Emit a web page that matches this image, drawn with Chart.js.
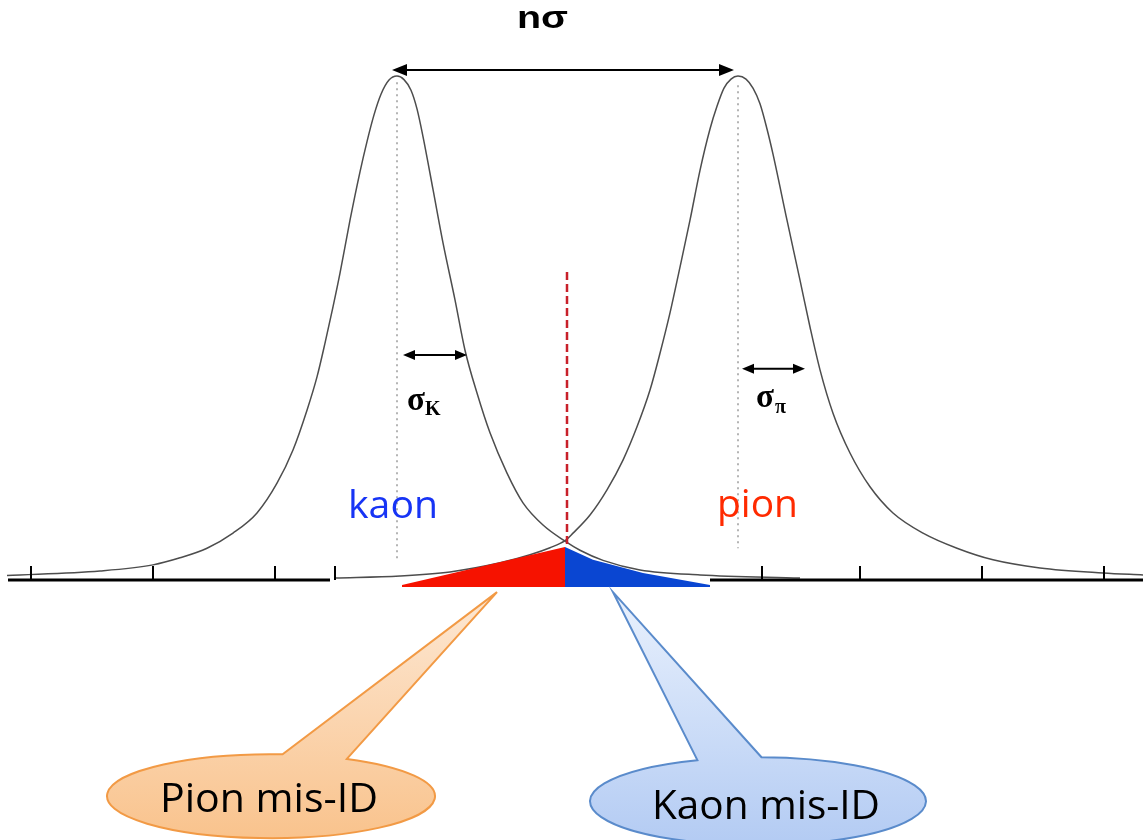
<!DOCTYPE html>
<html>
<head>
<meta charset="utf-8">
<title>kaon / pion separation</title>
<script src="https://cdn.jsdelivr.net/npm/chart.js@4.4.0/dist/chart.umd.min.js"></script>
<style>
	html, body { margin: 0; padding: 0; background: #fff; }
	#box { width: 1143px; height: 840px; }
</style>
</head>
<body>
<div id="box"><canvas id="MyChart1"></canvas></div>
<script>
// values (x: arbitrary PID units, y: % of peak height)
var kaonX = [0.7, 10.0, 15.3, 18.0, 20.7, 23.3, 25.7, 27.7, 29.3, 30.7, 31.7, 32.5, 33.3, 34.0, 35.0, 36.0, 36.7, 37.4, 38.1, 38.9, 39.7,
	40.4, 41.1, 41.7, 42.3, 43.3, 44.3, 45.5, 46.5, 47.7, 49.0, 50.7, 52.3, 54.3, 56.5, 58.0, 60.3, 64.0, 70.0, 80.0];
var kaonY = [0.9, 1.8, 3.0, 4.4, 6.3, 9.3, 13.3, 19.2, 25.8, 33.7, 40.3, 47.0, 54.2, 60.9, 71.4, 81.0, 87.0, 92.3, 96.4, 99.2, 100,
	99.3, 97.2, 93.5, 88.0, 77.5, 66.9, 55.6, 45.6, 37.1, 29.2, 21.2, 15.3, 10.9, 7.7, 5.9, 3.9, 2.0, 1.0, 0.4];
var pionX = [33.5, 40.0, 45.0, 50.0, 53.0, 55.0, 56.5, 57.3, 59.0, 60.7, 62.3, 63.7, 65.0, 66.0, 67.0, 68.0, 69.0, 70.0, 71.0, 71.7,
	72.4, 73.1, 73.8, 74.6, 75.3, 76.0, 76.7, 77.3, 78.7, 80.0, 81.0, 82.0, 83.3, 85.0, 87.0, 89.3, 92.3, 95.7, 99.3, 104.0, 110.3, 114.3];
var pionY = [0.4, 0.8, 1.6, 3.4, 5.0, 6.4, 7.8, 9.3, 12.9, 17.9, 23.8, 30.4, 37.7, 45.0, 53.0, 62.1, 71.4, 81.3, 89.5, 94.0,
	97.6, 99.4, 100, 99.4, 97.6, 94.5, 89.5, 84.5, 71.4, 59.5, 50.2, 41.7, 33.1, 25.2, 18.5, 13.3, 9.3, 6.3, 4.0, 2.4, 1.4, 1.0];

// mis-identified areas either side of the cut
var pionMisX = [40.2, 56.5];
var pionMisY = [-1.0, 6.55];
var kaonMisX = [56.5, 59.3, 64.3, 71.0];
var kaonMisY = [6.55, 4.0, 1.4, -1.0];
var misFloor = -1.4;

var cutX = 56.7, cutTop = 61.1, cutBottom = 6.9;
var kaonMean = 39.7, pionMean = 73.8;
var kaonMeanSpan = [98.8, 4.0];
var pionMeanSpan = [98.2, 6.3];

var axisSegments = [[0.8, 33.0], [71.0, 114.3]];
var tickValues = [3.1, 15.3, 27.5, 33.5, 76.2, 86.0, 98.2, 110.4];

function zip(xs, ys) {
	return xs.map(function(x, i) { return { x: x, y: ys[i] }; });
}

function vline(x, span) {
	return [{ x: x, y: span[0] }, { x: x, y: span[1] }];
}

var axisData = [];
axisSegments.forEach(function(s, i) {
	if (i > 0) axisData.push({ x: s[0], y: null });
	axisData.push({ x: s[0], y: 0 }, { x: s[1], y: 0 });
});

// label / arrow placement, in data units
var notes = {
	nSigma: { x: 54.25, y: 109.45, w: 51 },
	topArrow: { x1: 39.2, x2: 73.4, y: 101.2 },
	sigK: { x1: 40.3, x2: 46.7, y: 44.65, sx: 40.7, sy: 33.7, kx: 42.5, ky: 32.7 },
	sigPi: { x1: 74.2, x2: 80.5, y: 41.9, sx: 75.6, sy: 34.3, kx: 77.5, ky: 33.1 },
	kaon: { x: 39.3, y: 12.3, w: 90 },
	pion: { x: 75.75, y: 12.5, w: 81 },
	pionMis: { cx: 27.1, cy: -42.9, rx: 16.4, ry: 8.33, tipX: 49.7, tipY: -2.4, a1: -1.50, a2: -1.09,
		tx: 26.9, ty: -46.0, tw: 218, text: "Pion mis-ID",
		top: "#fde8d4", bottom: "#f9c38d", stroke: "#f29a45" },
	kaonMis: { cx: 75.8, cy: -43.9, rx: 16.8, ry: 8.73, tipX: 61.3, tipY: -2.4, a1: -1.94, a2: -1.55,
		tx: 76.6, ty: -47.4, tw: 228, text: "Kaon mis-ID",
		top: "#e9f1fd", bottom: "#b3cbf3", stroke: "#5a8bcb" }
};

function fitText(ctx, text, cx, base, w, font, color) {
	ctx.font = font;
	var m = ctx.measureText(text).width;
	ctx.save();
	ctx.translate(cx, base);
	ctx.scale(w / m, 1);
	ctx.fillStyle = color;
	ctx.textAlign = "center";
	ctx.textBaseline = "alphabetic";
	ctx.fillText(text, 0, 0);
	ctx.restore();
}

function arrow2(ctx, x1, x2, y, len, half, lw) {
	ctx.save();
	ctx.strokeStyle = "#000";
	ctx.fillStyle = "#000";
	ctx.lineWidth = lw;
	ctx.beginPath();
	ctx.moveTo(x1 + len - 2, y);
	ctx.lineTo(x2 - len + 2, y);
	ctx.stroke();
	ctx.beginPath();
	ctx.moveTo(x1, y); ctx.lineTo(x1 + len, y - half); ctx.lineTo(x1 + len, y + half); ctx.closePath();
	ctx.moveTo(x2, y); ctx.lineTo(x2 - len, y - half); ctx.lineTo(x2 - len, y + half); ctx.closePath();
	ctx.fill();
	ctx.restore();
}

function callout(ctx, xs, ys, c) {
	var cx = xs.getPixelForValue(c.cx), cy = ys.getPixelForValue(c.cy);
	var rx = xs.getPixelForValue(c.cx + c.rx) - cx;
	var ry = ys.getPixelForValue(c.cy) - ys.getPixelForValue(c.cy + c.ry);
	var tx = xs.getPixelForValue(c.tipX), ty = ys.getPixelForValue(c.tipY);
	ctx.save();
	ctx.beginPath();
	ctx.moveTo(cx + rx * Math.cos(c.a2), cy + ry * Math.sin(c.a2));
	ctx.lineTo(tx, ty);
	ctx.lineTo(cx + rx * Math.cos(c.a1), cy + ry * Math.sin(c.a1));
	ctx.ellipse(cx, cy, rx, ry, 0, c.a1, c.a2, true);
	ctx.closePath();
	var g = ctx.createLinearGradient(0, ty, 0, cy + ry);
	g.addColorStop(0, c.top);
	g.addColorStop(1, c.bottom);
	ctx.fillStyle = g;
	ctx.fill();
	ctx.lineWidth = 2;
	ctx.strokeStyle = c.stroke;
	ctx.stroke();
	ctx.restore();
	fitText(ctx, c.text, xs.getPixelForValue(c.tx), ys.getPixelForValue(c.ty), c.tw, "40px 'Open Sans'", "#000");
}

var decorations = {
	id: "decorations",
	afterDatasetsDraw: function(chart) {
		var ctx = chart.ctx, xs = chart.scales.x, ys = chart.scales.y;
		var y0 = ys.getPixelForValue(0);

		// axis ticks
		ctx.save();
		ctx.strokeStyle = "#000";
		ctx.lineWidth = 2;
		tickValues.forEach(function(t) {
			var px = Math.round(xs.getPixelForValue(t));
			ctx.beginPath();
			ctx.moveTo(px, y0);
			ctx.lineTo(px, y0 - 14);
			ctx.stroke();
		});
		ctx.restore();

		var n = notes;
		arrow2(ctx, xs.getPixelForValue(n.topArrow.x1), xs.getPixelForValue(n.topArrow.x2), ys.getPixelForValue(n.topArrow.y), 15, 6, 2);
		fitText(ctx, "nσ", xs.getPixelForValue(n.nSigma.x), ys.getPixelForValue(n.nSigma.y), n.nSigma.w, "bold 31px 'Liberation Sans'", "#000");

		[[n.sigK, "K"], [n.sigPi, "π"]].forEach(function(p) {
			var s = p[0];
			arrow2(ctx, xs.getPixelForValue(s.x1), xs.getPixelForValue(s.x2), ys.getPixelForValue(s.y), 12, 5, 2);
			ctx.save();
			ctx.fillStyle = "#000";
			ctx.textAlign = "left";
			ctx.textBaseline = "alphabetic";
			ctx.font = "bold 33px 'Liberation Serif'";
			ctx.fillText("σ", xs.getPixelForValue(s.sx), ys.getPixelForValue(s.sy));
			ctx.font = "bold 20px 'Liberation Serif'";
			ctx.fillText(p[1], xs.getPixelForValue(s.kx), ys.getPixelForValue(s.ky));
			ctx.restore();
		});

		fitText(ctx, "kaon", xs.getPixelForValue(n.kaon.x), ys.getPixelForValue(n.kaon.y), n.kaon.w, "39px 'Open Sans'", "#1734f5");
		fitText(ctx, "pion", xs.getPixelForValue(n.pion.x), ys.getPixelForValue(n.pion.y), n.pion.w, "39px 'Open Sans'", "#ff2a00");

		callout(ctx, xs, ys, n.pionMis);
		callout(ctx, xs, ys, n.kaonMis);
	}
};

var ctx = document.getElementById("MyChart1").getContext("2d");
var chart = new Chart(ctx, {
	type: "line",
	data: {
		datasets: [{
			label: "Pion mis-ID",
			data: zip(pionMisX, pionMisY),
			borderWidth: 0,
			pointRadius: 0,
			backgroundColor: "#f61200",
			fill: { value: misFloor },
			order: 0
		}, {
			label: "Kaon mis-ID",
			data: zip(kaonMisX, kaonMisY),
			borderWidth: 0,
			pointRadius: 0,
			backgroundColor: "#0a46d2",
			fill: { value: misFloor },
			order: 0
		}, {
			label: "cut",
			data: vline(cutX, [cutTop, cutBottom]),
			borderColor: "#c8202a",
			borderWidth: 2.5,
			borderDash: [8, 4],
			pointRadius: 0,
			order: 1
		}, {
			label: "axis",
			data: axisData,
			borderColor: "#000",
			borderWidth: 3,
			pointRadius: 0,
			spanGaps: false,
			order: 2
		}, {
			label: "kaon",
			data: zip(kaonX, kaonY),
			borderColor: "#4d4d4d",
			borderWidth: 1.5,
			pointRadius: 0,
			cubicInterpolationMode: "monotone",
			order: 3
		}, {
			label: "pion",
			data: zip(pionX, pionY),
			borderColor: "#4d4d4d",
			borderWidth: 1.5,
			pointRadius: 0,
			cubicInterpolationMode: "monotone",
			order: 3
		}, {
			label: "kaon mean",
			data: vline(kaonMean, kaonMeanSpan),
			borderColor: "#b4b4b4",
			borderWidth: 2,
			borderDash: [2, 4],
			pointRadius: 0,
			order: 4
		}, {
			label: "pion mean",
			data: vline(pionMean, pionMeanSpan),
			borderColor: "#b4b4b4",
			borderWidth: 2,
			borderDash: [2, 4],
			pointRadius: 0,
			order: 4
		}]
	},
	options: {
		responsive: true,
		maintainAspectRatio: false,
		animation: false,
		layout: { padding: 0 },
		plugins: {
			legend: { display: false },
			tooltip: { enabled: false }
		},
		scales: {
			x: { type: "linear", display: false, min: 0, max: 114.3 },
			y: { type: "linear", display: false, min: -51.6, max: 115.1 }
		}
	},
	plugins: [decorations]
});
</script>
</body>
</html>
